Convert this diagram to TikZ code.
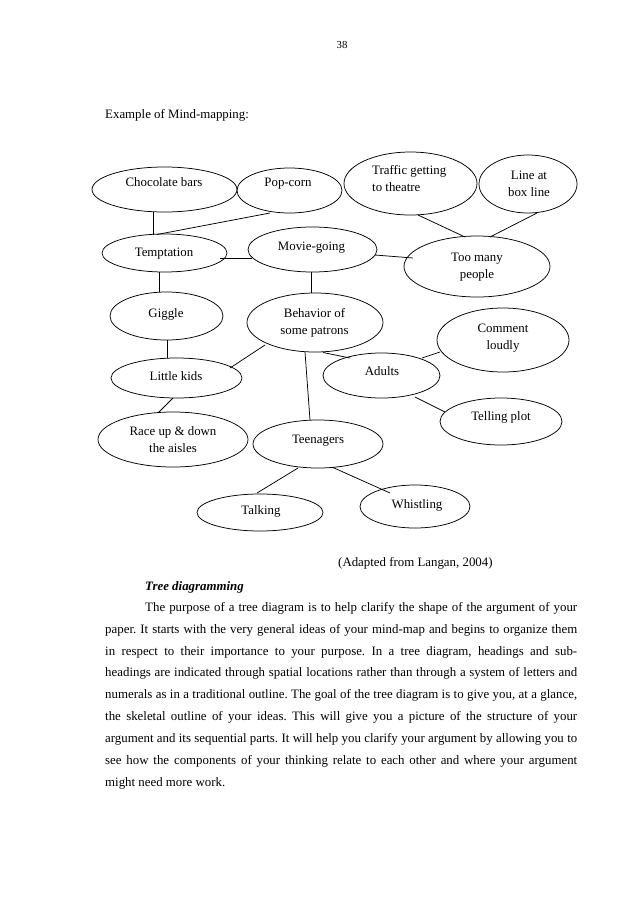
\documentclass[tikz,border=0pt]{standalone}
\usepackage{fontspec}
\setmainfont{Liberation Serif}
\usetikzlibrary{shapes.geometric}
\newlength\pxu
\setlength\pxu{0.9325pt}
\frenchspacing
\begin{document}
\frenchspacing
\begin{tikzpicture}[x=\pxu,y=-\pxu,
  bub/.style={draw,ellipse,inner sep=0pt,outer sep=0pt,line width=0.7pt},
  lbl/.style={inner sep=0pt,font=\fontsize{12}{16}\selectfont,align=center},
  lbl1/.style={lbl,text height=8.5pt,text depth=2.5pt},
  conn/.style={line width=0.7pt},
  body/.style={inner sep=0pt,anchor=west,font=\fontsize{12}{14}\selectfont,text height=8.5pt,text depth=2.5pt}]
\fill[white] (0,0) rectangle (638,903);
\useasboundingbox (0,0) rectangle (638,903);

% header
\node[inner sep=0pt,font=\fontsize{10}{12}\selectfont] (pnum) at (342,45) {38};
\node[body] (title) at (105,115) {Example of Mind-mapping:};

% bubbles
\node[bub,minimum width=145\pxu,minimum height=45\pxu] (cb) at (164.5,189.5) {};
\node[bub,minimum width=105\pxu,minimum height=45\pxu] (pop) at (289.5,190.5) {};
\node[bub,minimum width=125\pxu,minimum height=38\pxu] (tmp) at (164.5,253) {};
\node[bub,minimum width=129\pxu,minimum height=45\pxu] (movie) at (312.5,249.5) {};
\node[bub,minimum width=133\pxu,minimum height=63\pxu] (traffic) at (410.5,183.5) {};
\node[bub,minimum width=98\pxu,minimum height=58\pxu] (lineat) at (528,184) {};
\node[bub,minimum width=146\pxu,minimum height=61\pxu] (tm) at (477,266.5) {};
\node[bub,minimum width=113\pxu,minimum height=48\pxu] (giggle) at (166.5,316) {};
\node[bub,minimum width=136\pxu,minimum height=59\pxu] (beh) at (315,322.5) {};
\node[bub,minimum width=131\pxu,minimum height=40\pxu] (lk) at (176.5,378) {};
\node[bub,minimum width=150\pxu,minimum height=55\pxu] (race) at (173,439.5) {};
\node[bub,minimum width=130\pxu,minimum height=48\pxu] (teen) at (318,444) {};
\node[bub,minimum width=117\pxu,minimum height=45\pxu] (adults) at (381.5,375.5) {};
\node[bub,minimum width=132\pxu,minimum height=64\pxu] (comment) at (503,340) {};
\node[bub,minimum width=122\pxu,minimum height=47\pxu] (telling) at (501,421.5) {};
\node[bub,minimum width=126\pxu,minimum height=37\pxu] (talking) at (260,512.5) {};
\node[bub,minimum width=110\pxu,minimum height=43\pxu] (whistling) at (415,506.5) {};

% labels
\node[lbl1] (cbt) at (164,183) {Chocolate bars};
\node[lbl1] (popt) at (288,183) {Pop-corn};
\node[lbl1] (tmpt) at (164,253) {Temptation};
\node[lbl1] (moviet) at (311.5,247) {Movie-going};
\node[lbl,align=left,anchor=west] (traffict) at (372,178.5) {Traffic getting\\to theatre};
\node[lbl] (lineatt) at (529,183.5) {Line at\\box line};
\node[lbl] (tmt) at (477,267) {Too many\\people};
\node[lbl1] (gigglet) at (166,314) {Giggle};
\node[lbl] (beht) at (314.5,323) {Behavior of\\some patrons};
\node[lbl1] (lkt) at (176,377) {Little kids};
\node[lbl] (racet) at (173,440) {Race up \& down\\the aisles};
\node[lbl1] (teent) at (318,440) {Teenagers};
\node[lbl1] (adultst) at (382,372) {Adults};
\node[lbl] (commentt) at (503,338.5) {Comment\\loudly};
\node[lbl1] (tellingt) at (501,417) {Telling plot};
\node[lbl1] (talkingt) at (261,511) {Talking};
\node[lbl1] (whistlingt) at (417,505) {Whistling};

% connectors
\draw[conn] ([shift={(-11.5,22.5)}]cb.center) -- ([shift={(-11.5,-18.5)}]tmp.center);
\draw[conn] ([shift={(-19.5,22.5)}]pop.center) -- ([shift={(-7.5,-18.5)}]tmp.center);
\draw[conn] ([shift={(55.5,5)}]tmp.center) -- ([shift={(-60.5,8.5)}]movie.center);
\draw[conn] ([shift={(62.5,5.5)}]movie.center) -- ([shift={(-64,-8.5)}]tm.center);
\draw[conn] ([shift={(7.5,31.5)}]traffic.center) -- ([shift={(-12,-29.5)}]tm.center);
\draw[conn] ([shift={(9,29)}]lineat.center) -- ([shift={(13,-29.5)}]tm.center);
\draw[conn] ([shift={(-5.5,19)}]tmp.center) -- ([shift={(-7.5,-24)}]giggle.center);
\draw[conn] ([shift={(-1.5,22.5)}]movie.center) -- ([shift={(-4,-29.5)}]beh.center);
\draw[conn] ([shift={(0.5,24)}]giggle.center) -- ([shift={(-9.5,-20)}]lk.center);
\draw[conn] ([shift={(-50,22.5)}]beh.center) -- ([shift={(53.5,-10)}]lk.center);
\draw[conn] ([shift={(-3.5,20)}]lk.center) -- ([shift={(-15,-26.5)}]race.center);
\draw[conn] ([shift={(-10,29.5)}]beh.center) -- ([shift={(-8,-24)}]teen.center);
\draw[conn] ([shift={(8,30)}]beh.center) -- ([shift={(-31.5,-17.5)}]adults.center);
\draw[conn] ([shift={(40.5,-17.5)}]adults.center) -- ([shift={(-63,12)}]comment.center);
\draw[conn] ([shift={(33.5,21.5)}]adults.center) -- ([shift={(-56,-9.5)}]telling.center);
\draw[conn] ([shift={(-20,24)}]teen.center) -- ([shift={(-3,-19.5)}]talking.center);
\draw[conn] ([shift={(15,23.5)}]teen.center) -- ([shift={(-25,-13.5)}]whistling.center);

% caption and text
\node[body] (src) at (338,563) {(Adapted from Langan, 2004)};
\node[body] (head) at (145,587) {\textbf{\textit{Tree diagramming}}};
\node[body] (l1) at (145,608) {\makebox[432\pxu][s]{The purpose of a tree diagram is to help clarify the shape of the argument of your}};
\node[body] (l2) at (105,630) {\makebox[472\pxu][s]{paper. It starts with the very general ideas of your mind-map and begins to organize them}};
\node[body] (l3) at (105,652) {\makebox[472\pxu][s]{in respect to their importance to your purpose. In a tree diagram, headings and sub-}};
\node[body] (l4) at (105,673.5) {\makebox[472\pxu][s]{headings are indicated through spatial locations rather than through a system of letters and}};
\node[body] (l5) at (105,695.5) {\makebox[472\pxu][s]{numerals as in a traditional outline. The goal of the tree diagram is to give you, at a glance,}};
\node[body] (l6) at (105,717.5) {\makebox[472\pxu][s]{the skeletal outline of your ideas. This will give you a picture of the structure of your}};
\node[body] (l7) at (105,739.5) {\makebox[472\pxu][s]{argument and its sequential parts. It will help you clarify your argument by allowing you to}};
\node[body] (l8) at (105,761.5) {\makebox[472\pxu][s]{see how the components of your thinking relate to each other and where your argument}};
\node[body] (l9) at (105,783.5) {might need more work.};
\end{tikzpicture}
\end{document}
